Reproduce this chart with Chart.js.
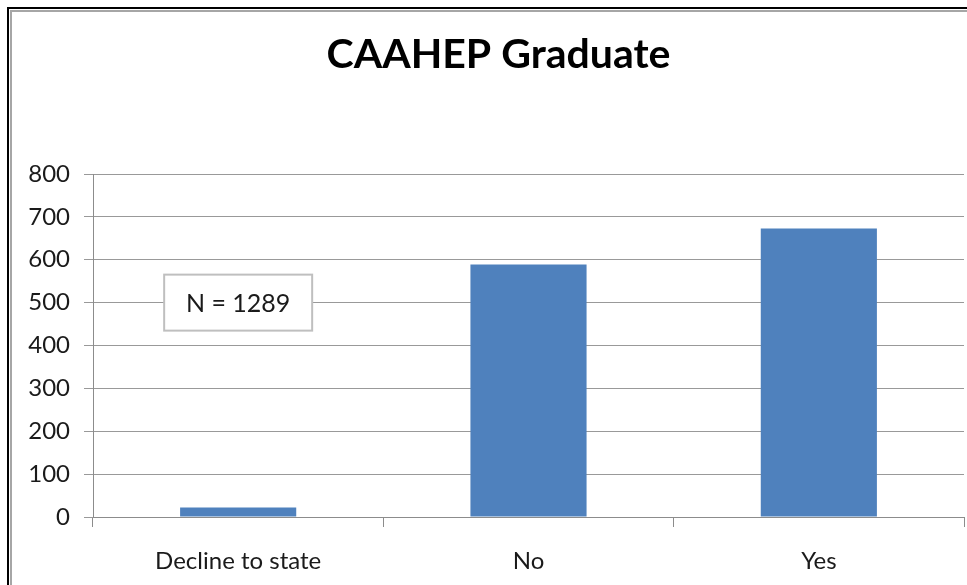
<!DOCTYPE html>
<html>
<head>
<meta charset="utf-8">
<script src="https://cdn.jsdelivr.net/npm/chart.js@4"></script>
<style>
    html, body { margin: 0; padding: 0; background: #fff; }
    #wrap { position: relative; width: 967px; height: 585px; overflow: hidden; }
    #outer { position: absolute; left: 7px; top: 7px; right: -10px; bottom: -10px;
             border-left: 2px solid #000; border-top: 2px solid #000; }
    #inner { position: absolute; left: 10px; top: 10px; right: -10px; bottom: -10px;
             border-left: 2px solid #a6a6a6; border-top: 2px solid #a6a6a6; }
    canvas { position: absolute; left: 0; top: 0; }
</style>
</head>
<body>
<div id="wrap">
    <div id="outer"></div>
    <div id="inner"></div>
    <canvas id="caahepChart" width="967" height="585"></canvas>
</div>
<script>
// Data
const categories = ['Decline to state', 'No', 'Yes'];
const counts = [22, 589, 673];
const yTicks = [0, 100, 200, 300, 400, 500, 600, 700, 800];
const titleText = 'CAAHEP Graduate';
const noteText = 'N = 1289';

const FONT = 'Lato, "Open Sans", sans-serif';

// Title drawn by hand so it can sit a bit right of the canvas centre (as in the frame)
const titlePlugin = {
    id: 'titleText',
    afterDraw(chart) {
        const c = chart.ctx;
        c.save();
        c.fillStyle = '#000';
        c.font = 'bold 41px ' + FONT;
        c.textAlign = 'center';
        c.textBaseline = 'alphabetic';
        c.fillText(titleText, chart.width / 2 + 15, 68);
        c.restore();
    }
};

// Text box "N = 1289" anchored to the first category at value 500
const noteBox = {
    id: 'noteBox',
    afterDraw(chart) {
        const c = chart.ctx;
        const cx = chart.scales.x.getPixelForValue(0);
        const cy = chart.scales.y.getPixelForValue(500);
        const w = 148, h = 56;
        c.save();
        c.fillStyle = '#fff';
        c.fillRect(cx - w / 2, cy - h / 2, w, h);
        c.strokeStyle = '#bfbfbf';
        c.lineWidth = 2;
        c.strokeRect(cx - w / 2, cy - h / 2, w, h);
        c.fillStyle = '#1a1a1a';
        c.font = '25px ' + FONT;
        c.textAlign = 'center';
        c.textBaseline = 'middle';
        c.fillText(noteText, cx, cy + 1);
        c.restore();
    }
};

const chart = new Chart(document.getElementById('caahepChart'), {
    type: 'bar',
    data: {
        labels: categories,
        datasets: [{
            data: counts,
            backgroundColor: '#4f81bd',
            borderWidth: 0,
            barPercentage: 0.4,
            categoryPercentage: 1
        }]
    },
    options: {
        responsive: false,
        animation: false,
        layout: { padding: { left: 0, right: 3, top: 174, bottom: 12 } },
        plugins: {
            legend: { display: false },
            tooltip: { enabled: false },
            title: { display: false }
        },
        scales: {
            x: {
                offset: true,
                afterFit(scale) { scale.height = 56; },
                grid: { display: true, drawOnChartArea: false, offset: true,
                        color: '#8c8c8c', tickLength: 10 },
                border: { color: '#8c8c8c' },
                ticks: { color: '#1a1a1a', padding: 20,
                         font: { family: FONT, size: 24 } }
            },
            y: {
                min: 0,
                max: 800,
                afterFit(scale) { scale.width = 93; },
                afterBuildTicks(scale) { scale.ticks = yTicks.map(v => ({ value: v })); },
                grid: { color: '#999', tickLength: 9 },
                border: { color: '#8c8c8c' },
                ticks: { color: '#1a1a1a', padding: 14,
                         font: { family: FONT, size: 24 } }
            }
        }
    },
    plugins: [titlePlugin, noteBox]
});
</script>
</body>
</html>
